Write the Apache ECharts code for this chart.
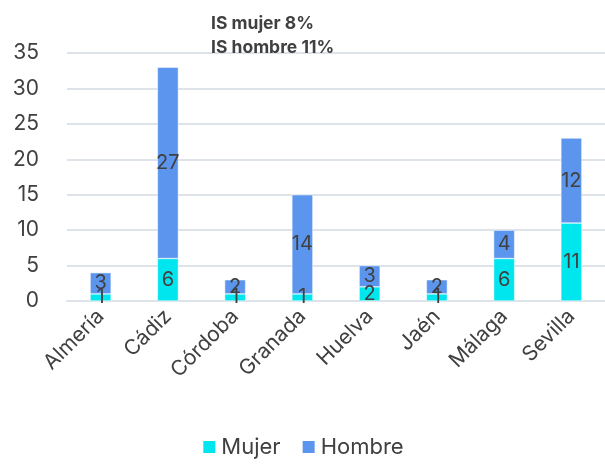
<!DOCTYPE html>
<html>
<head>
<meta charset="utf-8">
<script src="https://cdn.jsdelivr.net/npm/echarts@6/dist/echarts.min.js"></script>
<style>
html, body { margin: 0; padding: 0; background: #fff; }
#chart { width: 605px; height: 465px; }
</style>
</head>
<body>
<div id="chart"></div>
<script>
var provincias = ['Almería', 'Cádiz', 'Córdoba', 'Granada', 'Huelva', 'Jaén', 'Málaga', 'Sevilla'];
var mujer = [1, 6, 1, 1, 2, 1, 6, 11];
var hombre = [3, 27, 2, 14, 3, 2, 4, 12];
var yTicks = [0, 5, 10, 15, 20, 25, 30, 35];

var myChart = echarts.init(document.getElementById('chart'));
var fuente = 'Inter, "Noto Sans", sans-serif';
var etiqueta = {
	show: true,
	position: 'inside',
	color: '#404040',
	fontSize: 20,
	fontFamily: fuente
};

myChart.setOption({
	animation: false,
	title: {
		text: 'IS mujer 8%\nIS hombre 11%',
		left: 206,
		top: 7,
		textStyle: {
			fontSize: 17.5,
			fontWeight: 'bold',
			color: '#404040',
			fontFamily: fuente,
			lineHeight: 24
		}
	},
	legend: {
		bottom: 2,
		left: 'center',
		itemWidth: 14,
		itemHeight: 14,
		itemGap: 20,
		icon: 'rect',
		textStyle: { fontSize: 22, color: '#404040', fontFamily: fuente }
	},
	grid: { left: 67, right: 0, top: 53, bottom: 164 },
	xAxis: {
		type: 'category',
		data: provincias,
		axisLine: { lineStyle: { color: '#dde3e8', width: 2 } },
		axisTick: { show: false },
		axisLabel: {
			rotate: 45,
			interval: 0,
			fontSize: 21,
			color: '#404040',
			fontFamily: fuente,
			margin: 12
		}
	},
	yAxis: {
		type: 'value',
		min: yTicks[0],
		max: yTicks[yTicks.length - 1],
		interval: 5,
		axisLabel: { fontSize: 21, color: '#404040', fontFamily: fuente, margin: 28 },
		splitLine: { lineStyle: { color: '#dde3e8', width: 2 } },
		axisLine: { show: false },
		axisTick: { show: false }
	},
	series: [{
		name: 'Mujer',
		type: 'bar',
		stack: 'total',
		barWidth: 21,
		data: mujer,
		itemStyle: { color: '#00e6ee', borderColor: '#fff', borderWidth: 0.5 },
		label: etiqueta
	}, {
		name: 'Hombre',
		type: 'bar',
		stack: 'total',
		barWidth: 21,
		data: hombre,
		itemStyle: { color: '#5b95ee', borderColor: '#fff', borderWidth: 0.5 },
		label: etiqueta
	}]
});
</script>
</body>
</html>
